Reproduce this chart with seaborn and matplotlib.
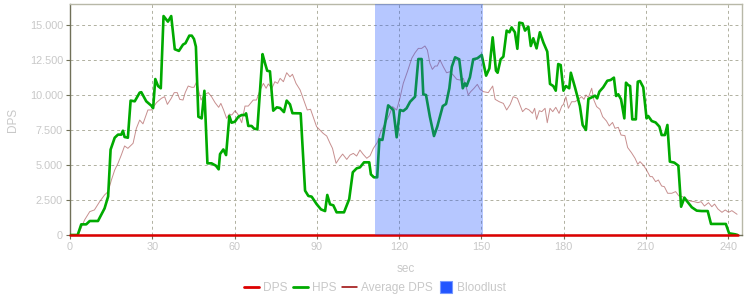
import matplotlib
matplotlib.use("Agg")
import matplotlib.pyplot as plt
import seaborn as sns
import pandas as pd
from matplotlib.lines import Line2D
from matplotlib.ticker import FuncFormatter

# ---- data ----
hps_t = [0, 2.8, 4.1, 5.9, 7.2, 10.2, 12.6, 13.9, 14.8, 16.3, 17.5, 18.7, 19.3, 19.9, 21.1,
         22.1, 23.6, 25.4, 26.0, 27.8, 29.7, 30.3, 31.1, 32.1, 33.1, 34.1, 35.7, 36.9, 38.2,
         39.7, 41.2, 42.1, 43.5, 44.4, 45.2, 45.9, 46.8, 48.0, 49.0, 50.1, 51.6, 53.2, 54.2,
         54.7, 55.9, 56.9, 58.1, 58.9, 60.1, 61.4, 62.6, 63.8, 64.2, 65.0, 66.2, 67.1, 68.3,
         70.2, 70.9, 71.9, 72.9, 74.1, 75.4, 76.6, 78.0, 79.0, 80.2, 81.1, 84.1, 85.7, 86.9,
         88.1, 89.9, 91.5, 93.0, 93.8, 94.8, 96.0, 97.2, 99.9, 101.8, 103.1, 104.5, 105.7,
         107.2, 109.1, 109.7, 110.8, 112.0, 112.8, 113.9, 116.0, 117.9, 119.1, 120.3, 121.5,
         122.7, 124.0, 125.8, 127.0, 128.2, 128.8, 129.8, 131.2, 132.7, 133.9, 135.9, 137.1,
         138.3, 139.2, 140.4, 141.9, 143.2, 144.0, 144.6, 145.8, 147.0, 148.5, 150.1, 151.7,
         152.9, 154.1, 155.3, 155.9, 157.0, 158.0, 159.2, 160.2, 161.0, 162.2, 163.1, 163.8,
         165.0, 165.9, 167.1, 168.0, 168.9, 170.1, 171.3, 172.6, 174.0, 175.0, 176.2, 177.1,
         178.0, 178.9, 179.9, 180.8, 182.0, 182.6, 184.1, 185.9, 186.9, 188.1, 189.0, 190.2,
         191.4, 192.2, 193.0, 194.4, 195.9, 197.1, 198.3, 199.1, 199.9, 200.9, 202.1, 202.7,
         203.5, 204.2, 205.0, 206.3, 207.0, 207.8, 209.0, 210.2, 210.8, 212.1, 213.5, 214.9,
         215.7, 216.9, 217.8, 218.7, 220.3, 221.8, 222.8, 224.0, 224.8, 226.7, 228.5, 230.3,
         232.5, 233.7, 239.1, 240.3, 242.5, 243.4]
hps_v = [0, 0, 760, 760, 1000, 1000, 1900, 2750, 6100, 6950, 7170, 7170, 7450, 7000, 6950,
         9600, 9550, 10170, 10200, 9550, 9230, 9060, 11140, 10640, 10480, 15640, 15240, 15640, 13270,
         13150, 13600, 13700, 14240, 14240, 14000, 13450, 8450, 8330, 10300, 5120, 5120, 4950, 4690,
         5780, 6110, 5710, 8500, 8020, 8090, 8450, 8570, 8570, 8690, 7790, 7790, 7600, 7550,
         12920, 12400, 11730, 11690, 8880, 9120, 9070, 8780, 9600, 9330, 8700, 8690, 3170, 2790,
         2740, 2210, 1830, 1710, 2860, 2190, 2120, 1620, 1620, 2570, 4480, 4760, 4830,
         5190, 5190, 4330, 4120, 4120, 6830, 6790, 9260, 8930, 6980, 8930, 8860,
         9050, 9520, 9880, 12570, 12570, 10050, 10000, 8450, 7070, 7740, 9210, 9360,
         10480, 12020, 12690, 12550, 10480, 10830, 10640, 11260, 12550, 12620, 12860, 11380,
         11900, 14120, 11740, 11590, 12550, 12740, 14600, 14480, 14830, 14480, 13300, 15170,
         15120, 14600, 14880, 13500, 14050, 13330, 14480, 13740, 13100, 10790, 10640, 10310,
         12210, 12140, 10310, 10640, 10480, 11590, 10550, 9210, 7860, 7500, 9720, 9830,
         9950, 9760, 10240, 10550, 11020, 11070, 11240, 9930, 10050, 9690, 8330, 10880,
         10710, 10640, 8260, 8260, 10950, 11000, 10550, 8330, 8500, 8140, 8040, 7740,
         7140, 7140, 7860, 5240, 5170, 4950, 2020, 2670, 2450, 1980, 1740, 1710,
         1710, 790, 790, 120, 50, 0]

avg_t = [3.0, 5.3, 7.2, 8.9, 10.8, 12.6, 13.9, 15.1, 16.3, 17.5, 18.7, 19.9, 21.1, 23.0, 24.2,
         25.4, 26.6, 28.4, 29.7, 31.5, 33.3, 34.5, 35.5, 36.9, 38.0, 39.1, 40.0, 41.2, 42.0,
         43.1, 44.4, 45.2, 46.2, 47.0, 47.8, 48.9, 50.4, 51.6, 52.9, 54.2, 55.0, 56.0, 57.1,
         58.1, 59.0, 60.2, 61.4, 62.6, 63.8, 65.0, 66.8, 68.0, 69.3, 70.5, 71.5, 72.3, 73.6,
         74.7, 75.7, 76.6, 77.8, 79.0, 80.2, 81.1, 82.4, 83.9, 85.0, 86.5, 87.7, 89.0, 89.9,
         91.1, 92.3, 93.6, 94.8, 95.7, 97.0, 98.2, 99.4, 100.9, 102.1, 103.3, 104.5, 105.7,
         106.9, 108.2, 109.4, 110.6, 112.0, 113.3, 114.8, 116.4, 117.6, 119.1, 120.3, 121.5,
         123.0, 124.6, 125.8, 127.0, 128.2, 129.4, 130.3, 131.2, 132.1, 133.1, 133.9, 134.9,
         136.1, 137.3, 138.5, 139.7, 141.0, 142.2, 143.4, 144.4, 145.2, 146.1, 147.3, 148.5,
         149.5, 150.7, 152.5, 154.1, 155.0, 156.5, 158.0, 159.2, 160.5, 161.6, 163.1, 165.0,
         166.2, 167.4, 168.6, 169.4, 170.1, 171.1, 172.0, 173.2, 174.0, 175.0, 176.0, 177.1,
         178.3, 179.3, 179.9, 180.8, 181.7, 182.9, 184.1, 185.3, 186.5, 187.4, 188.1, 189.0,
         190.2, 191.0, 192.0, 193.2, 194.2, 195.6, 196.6, 197.8, 198.7, 199.9, 200.9, 202.3,
         203.3, 204.7, 206.0, 207.0, 207.8, 209.0, 210.2, 211.5, 212.3, 213.5, 214.5, 215.7,
         216.7, 217.9, 219.4, 220.8, 222.0, 223.3, 224.5, 226.1, 227.6, 228.9, 230.1, 231.3,
         232.8, 234.0, 235.0, 236.2, 237.7, 238.9, 240.1, 241.3, 243.2]
avg_v = [0, 1070, 1670, 1790, 2380, 2860, 3100, 3930, 4640, 5120, 5710, 6360, 6190, 6550, 7620,
         8210, 7940, 8930, 8930, 9450, 9760, 9880, 9330, 9760, 10170, 10170, 9690, 9640, 10170,
         10640, 10550, 10550, 10950, 10240, 9640, 10000, 10170, 9880, 9450, 9120, 9400, 8930, 8330,
         8640, 8570, 8880, 8570, 8020, 9210, 9210, 9640, 9640, 10360, 10830, 10480, 10790, 10480,
         10950, 10830, 11190, 10950, 11590, 11300, 11480, 10830, 10360, 9760, 8930, 8980, 8260, 7740,
         7500, 7260, 7070, 6550, 6190, 5120, 5480, 5780, 5400, 5710, 5830, 5640, 6070,
         5760, 5480, 5660, 6190, 6600, 7380, 7930, 8570, 9170, 8930, 9790, 10830,
         11660, 12620, 13020, 13330, 13330, 13500, 13210, 12260, 11830, 12070, 12070, 12500,
         12020, 11590, 11660, 11430, 11120, 11070, 11190, 10590, 10000, 10240, 10480, 10760,
         10400, 10240, 10170, 10640, 9690, 9520, 9400, 8930, 9330, 9880, 9760, 8810,
         9050, 8930, 8690, 9050, 8260, 8880, 8810, 9050, 8020, 9050, 8810, 9120,
         8690, 9210, 9330, 9880, 9050, 9520, 9520, 9690, 9880, 9690, 10000, 9830,
         10480, 9640, 9170, 8980, 8450, 8140, 7790, 8040, 7620, 7690, 7140, 7100,
         6250, 5880, 5480, 5050, 5240, 5000, 4640, 4170, 4170, 3810, 3930, 3500,
         3450, 2980, 2980, 3100, 2790, 2740, 2570, 2430, 2380, 2310, 2380, 2070,
         2310, 2020, 2210, 1860, 1620, 1790, 1620, 1740, 1480]

dps_t = [0, 243.4]
dps_v = [0, 0]

bloodlust = [111.2, 150.6]

x_ticks = [0, 30, 60, 90, 120, 150, 180, 210, 240]
y_ticks = [0, 2500, 5000, 7500, 10000, 12500, 15000]

# ---- style ----
sns.set_style("white")
plt.rcParams['font.family'] = ['Liberation Sans', 'DejaVu Sans']

TXT = '#c8c8c8'
DARK_SPINE = '#707058'
LIGHT_SPINE = '#b8b8a8'
GRID = '#b0b0a0'
GREEN = '#00aa00'
RED = '#dd0000'
AVG = '#993333'
BLUE = '#2255ff'

fig = plt.figure(figsize=(7.5, 3), dpi=100)
ax = fig.add_axes([70 / 750, 1 - 235 / 300, 672 / 750, 231 / 300])

df_h = pd.DataFrame({'t': hps_t, 'v': hps_v})
df_a = pd.DataFrame({'t': avg_t, 'v': avg_v})
df_d = pd.DataFrame({'t': dps_t, 'v': dps_v})

sns.lineplot(data=df_a, x='t', y='v', ax=ax, color=AVG, linewidth=0.7, alpha=0.55,
             errorbar=None, zorder=3)
sns.lineplot(data=df_h, x='t', y='v', ax=ax, color=GREEN, linewidth=1.9,
             errorbar=None, zorder=4)
sns.lineplot(data=df_d, x='t', y='v', ax=ax, color=RED, linewidth=1.8,
             errorbar=None, zorder=5, clip_on=False)

ax.axvspan(bloodlust[0], bloodlust[1], color=BLUE, alpha=0.33, lw=0, zorder=6)

ax.set_xlim(0, 245)
ax.set_ylim(0, 16500)
ax.set_xticks(x_ticks)
ax.set_yticks(y_ticks)
ax.yaxis.set_major_formatter(FuncFormatter(lambda v, _: f"{int(v):,}".replace(",", ".")))

ax.grid(True, linestyle=(0, (3, 3)), color=GRID, linewidth=0.7)
ax.set_axisbelow(True)

for s in ['left', 'bottom']:
    ax.spines[s].set_color(DARK_SPINE)
    ax.spines[s].set_linewidth(1.0)
for s in ['top', 'right']:
    ax.spines[s].set_color(LIGHT_SPINE)
    ax.spines[s].set_linewidth(1.0)
    ax.spines[s].set_visible(True)

ax.tick_params(axis='both', length=3, width=0.8, color=DARK_SPINE, labelcolor=TXT,
               labelsize=7.8, pad=2)
ax.tick_params(axis='x', bottom=True)
ax.tick_params(axis='y', left=True)

ax.set_xlabel('sec', color=TXT, fontsize=8.5)
ax.set_ylabel('DPS', color=TXT, fontsize=8.5)
ax.xaxis.set_label_coords(0.5, -0.12)
ax.yaxis.set_label_coords(-0.076, 0.5)

handles = [
    Line2D([0], [0], color=RED, lw=2),
    Line2D([0], [0], color=GREEN, lw=2),
    Line2D([0], [0], color='#990000', lw=1.1),
    Line2D([0], [0], color=BLUE, marker='s', markersize=8, linestyle='none',
           markeredgecolor='#7799ff', markeredgewidth=0.8),
]
labels = ['DPS', 'HPS', 'Average DPS', 'Bloodlust']
leg = fig.legend(handles, labels, loc='center', bbox_to_anchor=(0.5, 0.04), ncol=4,
                 frameon=False, fontsize=8.6, handlelength=1.25, handletextpad=0.3,
                 columnspacing=0.5, labelcolor=TXT)

fig.savefig('out.png', dpi=100, facecolor='white')
